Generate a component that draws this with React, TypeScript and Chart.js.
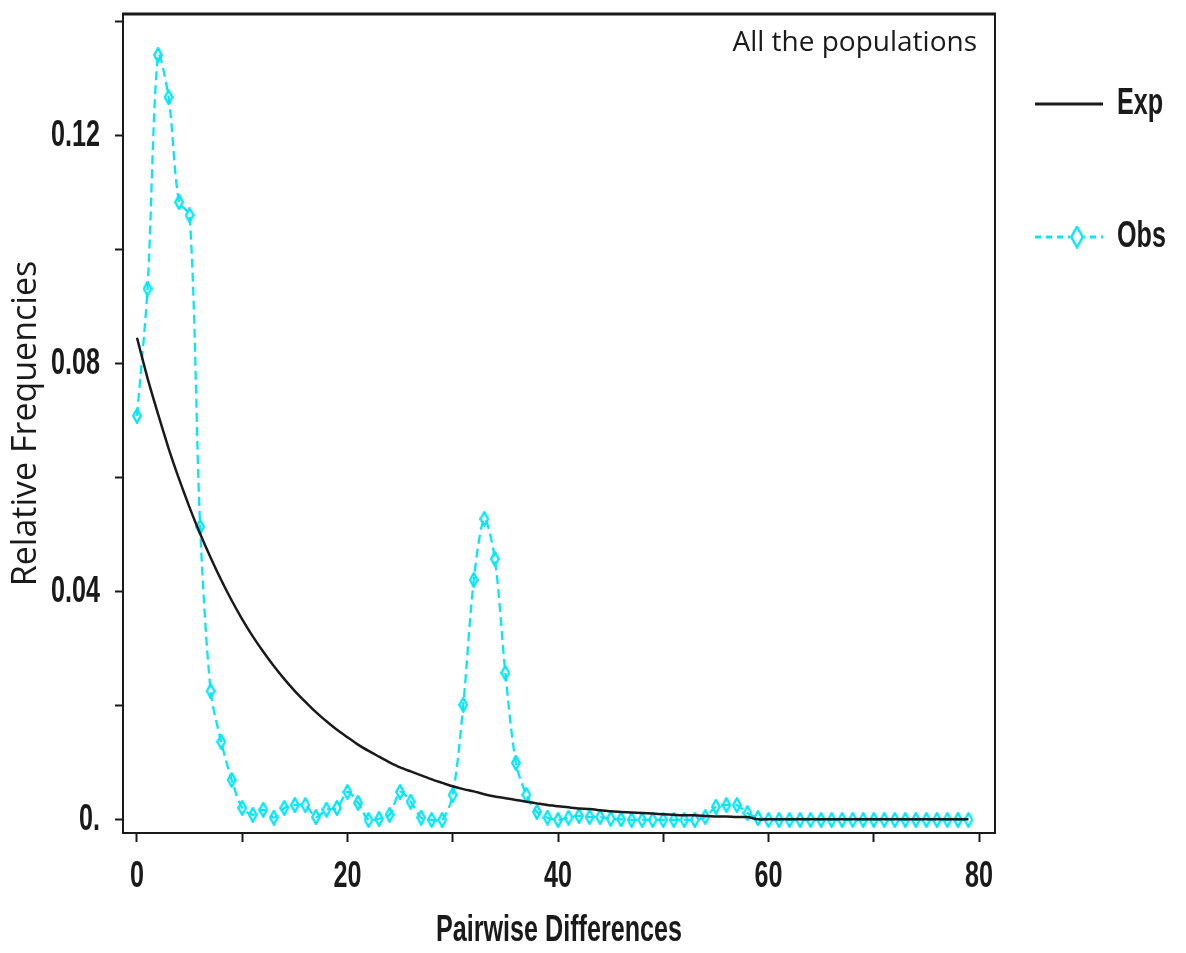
import { useEffect, useRef } from 'react';
import { Chart, registerables } from 'chart.js';

Chart.register(...registerables);

// Pairwise differences (x positions of every point)
const differences = [
  0, 1, 2, 3, 4, 5, 6, 7, 8, 9, 10, 11, 12, 13, 14, 15, 16, 17, 18, 19,
  20, 21, 22, 23, 24, 25, 26, 27, 28, 29, 30, 31, 32, 33, 34, 35, 36, 37, 38, 39,
  40, 41, 42, 43, 44, 45, 46, 47, 48, 49, 50, 51, 52, 53, 54, 55, 56, 57, 58, 59,
  60, 61, 62, 63, 64, 65, 66, 67, 68, 69, 70, 71, 72, 73, 74, 75, 76, 77, 78, 79,
];

// Observed mismatch distribution
const observed = [
  0.0709, 0.0932, 0.1342, 0.1268, 0.1084, 0.1061, 0.0514, 0.0226, 0.0137, 0.007,
  0.0021, 0.0009, 0.0018, 0.0004, 0.0021, 0.0026, 0.0026, 0.0005, 0.0018, 0.0021,
  0.0049, 0.003, 0.0, 0.0002, 0.0009, 0.0049, 0.0032, 0.0004, 0.0, 0.0,
  0.0044, 0.0202, 0.0421, 0.0528, 0.0458, 0.0258, 0.01, 0.0044, 0.0014, 0.0004,
  0.0, 0.0004, 0.0007, 0.0005, 0.0005, 0.0002, 0.0001, 0.0, 0.0, 0.0,
  0.0, 0.0, 0.0, 0.0, 0.0005, 0.0023, 0.0026, 0.0026, 0.0012, 0.0003,
  0, 0, 0, 0, 0, 0, 0, 0, 0, 0,
  0, 0, 0, 0, 0, 0, 0, 0, 0, 0,
];

// Expected distribution under the fitted model
const expected = [
  0.0846, 0.0775, 0.0712, 0.0652, 0.0598, 0.0548, 0.0502, 0.046, 0.0421, 0.0385,
  0.0352, 0.0322, 0.0295, 0.027, 0.0247, 0.0226, 0.0207, 0.0189, 0.0173, 0.0158,
  0.0145, 0.0132, 0.0121, 0.0111, 0.0101, 0.0092, 0.0085, 0.0078, 0.0071, 0.0065,
  0.0059, 0.0054, 0.005, 0.0045, 0.0041, 0.0038, 0.0035, 0.0032, 0.0029, 0.0026,
  0.0024, 0.0022, 0.002, 0.0019, 0.0017, 0.0015, 0.0014, 0.0013, 0.0012, 0.0011,
  0.001, 0.0009, 0.0008, 0.0008, 0.0007, 0.0006, 0.0006, 0.0005, 0.0005, 0.0001,
  0.0001, 0.0001, 0.0001, 0.0001, 0.0001, 0.0001, 0.0001, 0.0001, 0.0001, 0.0001,
  0.0001, 0.0001, 0.0001, 0.0001, 0.0001, 0.0001, 0.0001, 0.0001, 0.0001, 0.0001,
];

const seriesNames = ['Exp', 'Obs'];
const panelLabel = 'All the populations';
const xTitle = 'Pairwise Differences';
const yTitle = 'Relative Frequencies';

const CYAN = '#08e6f6';
const INK = '#1a1a1a';
const BOLD_FAMILY = "'Liberation Sans', Arial, sans-serif";
const PLAIN = "'Open Sans', 'Noto Sans', sans-serif";
// Horizontal squeeze applied to bold text to get a condensed look
const SQUEEZE = 0.68;

// Tall open diamond used as the Obs marker
function makeDiamond(w: number, h: number, lw: number): HTMLCanvasElement {
  const c = document.createElement('canvas');
  c.width = w;
  c.height = h;
  const g = c.getContext('2d')!;
  g.strokeStyle = CYAN;
  g.lineWidth = lw;
  g.lineJoin = 'round';
  g.beginPath();
  g.moveTo(w / 2, lw / 2);
  g.lineTo(w - lw / 2, h / 2);
  g.lineTo(w / 2, h - lw / 2);
  g.lineTo(lw / 2, h / 2);
  g.closePath();
  g.stroke();
  return c;
}

export default function App() {
  const canvasRef = useRef<HTMLCanvasElement | null>(null);

  useEffect(() => {
    const canvas = canvasRef.current;
    if (!canvas) return;

    // Bold labels are drawn narrowed around their anchor point
    const ctx2d = canvas.getContext('2d')!;
    const rawFillText = ctx2d.fillText.bind(ctx2d);
    (ctx2d as any).fillText = (text: string, x: number, y: number, maxWidth?: number) => {
      if (!/bold/.test(ctx2d.font)) {
        if (maxWidth === undefined) rawFillText(text, x, y);
        else rawFillText(text, x, y, maxWidth);
        return;
      }
      ctx2d.save();
      ctx2d.translate(x, y);
      ctx2d.scale(SQUEEZE, 1);
      rawFillText(text, 0, 0);
      ctx2d.restore();
    };

    const marker = makeDiamond(10, 16, 2.4);
    const keyMarker = makeDiamond(14, 23, 2.5);

    // Plot frame (top/right), panel label and the key on the right
    const framePlugin = {
      id: 'frameAndKey',
      afterDraw(chart: any) {
        const { ctx, chartArea: a } = chart;
        ctx.save();
        ctx.strokeStyle = INK;
        ctx.lineWidth = 3;
        ctx.beginPath();
        ctx.moveTo(a.left - 1, a.top);
        ctx.lineTo(a.right + 1, a.top);
        ctx.stroke();
        ctx.lineWidth = 2;
        ctx.beginPath();
        ctx.moveTo(a.right, a.top);
        ctx.lineTo(a.right, a.bottom + 1);
        ctx.stroke();

        ctx.fillStyle = INK;
        ctx.font = `28px ${PLAIN}`;
        ctx.textAlign = 'right';
        ctx.textBaseline = 'middle';
        ctx.fillText(panelLabel, a.right - 18, a.top + 29);

        const x0 = a.right + 40;
        const x1 = a.right + 108;
        const tx = a.right + 122;
        const yExp = a.top + 90;
        const yObs = a.top + 223;

        ctx.strokeStyle = INK;
        ctx.lineWidth = 3;
        ctx.setLineDash([]);
        ctx.beginPath();
        ctx.moveTo(x0, yExp);
        ctx.lineTo(x1, yExp);
        ctx.stroke();

        ctx.strokeStyle = CYAN;
        ctx.lineWidth = 3;
        ctx.setLineDash([6, 5]);
        ctx.beginPath();
        ctx.moveTo(x0, yObs);
        ctx.lineTo(x1, yObs);
        ctx.stroke();
        ctx.setLineDash([]);
        const mx = (x0 + x1) / 2 + 8;
        ctx.fillStyle = '#ffffff';
        ctx.fillRect(mx - 7, yObs - 11, 14, 22);
        ctx.drawImage(keyMarker, mx - 7, yObs - 11.5);

        ctx.fillStyle = INK;
        ctx.font = `bold 37px ${BOLD_FAMILY}`;
        ctx.textAlign = 'left';
        ctx.fillText(seriesNames[0], tx, yExp);
        ctx.fillText(seriesNames[1], tx, yObs);
        ctx.restore();
      },
    };

    const chart = new Chart(canvas, {
      type: 'line',
      data: {
        datasets: [
          {
            label: seriesNames[0],
            data: differences.map((d, i) => ({ x: d, y: expected[i] })),
            borderColor: INK,
            borderWidth: 2.5,
            pointRadius: 0,
            tension: 0.2,
            fill: false,
          },
          {
            label: seriesNames[1],
            data: differences.map((d, i) => ({ x: d, y: observed[i] })),
            borderColor: CYAN,
            borderWidth: 2.3,
            borderDash: [9, 5],
            pointStyle: marker,
            pointRadius: 6,
            tension: 0.3,
            fill: false,
          },
        ],
      },
      options: {
        animation: false,
        responsive: false,
        devicePixelRatio: 1,
        layout: { padding: { top: 14, right: 191, bottom: 0, left: 0 } },
        plugins: {
          legend: { display: false },
          tooltip: { enabled: false },
        },
        scales: {
          x: {
            type: 'linear',
            min: -1.33,
            max: 81.52,
            afterFit: (s: any) => {
              s.height = 120;
              s.paddingLeft = 0;
              s.paddingRight = 0;
            },
            ticks: {
              stepSize: 10,
              includeBounds: false,
              autoSkip: false,
              maxRotation: 0,
              padding: 13,
              color: INK,
              font: { family: BOLD_FAMILY, weight: 'bold', size: 37 },
              callback: (v: any) => (Math.round(v) % 20 === 0 ? String(Math.round(v)) : ''),
            },
            grid: {
              drawOnChartArea: false,
              drawTicks: true,
              tickLength: 9,
              tickWidth: 2,
              tickColor: INK,
            },
            border: { display: true, color: INK, width: 2 },
            title: {
              display: true,
              text: xTitle,
              color: INK,
              font: { family: BOLD_FAMILY, weight: 'bold', size: 37 },
              padding: { top: 0, bottom: 0 },
            },
          },
          y: {
            type: 'linear',
            min: -0.0023,
            max: 0.1414,
            afterFit: (s: any) => {
              s.width = 123;
              s.paddingTop = 0;
              s.paddingBottom = 0;
            },
            ticks: {
              stepSize: 0.02,
              includeBounds: false,
              autoSkip: false,
              padding: 15,
              color: INK,
              font: { family: BOLD_FAMILY, weight: 'bold', size: 37 },
              callback: (v: any) => {
                const k = Math.round(v / 0.02);
                if (k % 2 !== 0) return '';
                return k === 0 ? '0.' : Number(v).toFixed(2);
              },
            },
            grid: {
              drawOnChartArea: false,
              drawTicks: true,
              tickLength: 8,
              tickWidth: 2,
              tickColor: INK,
            },
            border: { display: true, color: INK, width: 2 },
            title: {
              display: true,
              text: yTitle,
              color: INK,
              font: { family: PLAIN, size: 34 },
              padding: { top: 6, bottom: 0 },
            },
          },
        },
      },
      plugins: [framePlugin],
    });

    return () => chart.destroy();
  }, []);

  return (
    <div style={{ position: 'absolute', left: 0, top: 0, width: 1186, height: 953, background: '#ffffff' }}>
      <canvas ref={canvasRef} width={1186} height={953} />
    </div>
  );
}
